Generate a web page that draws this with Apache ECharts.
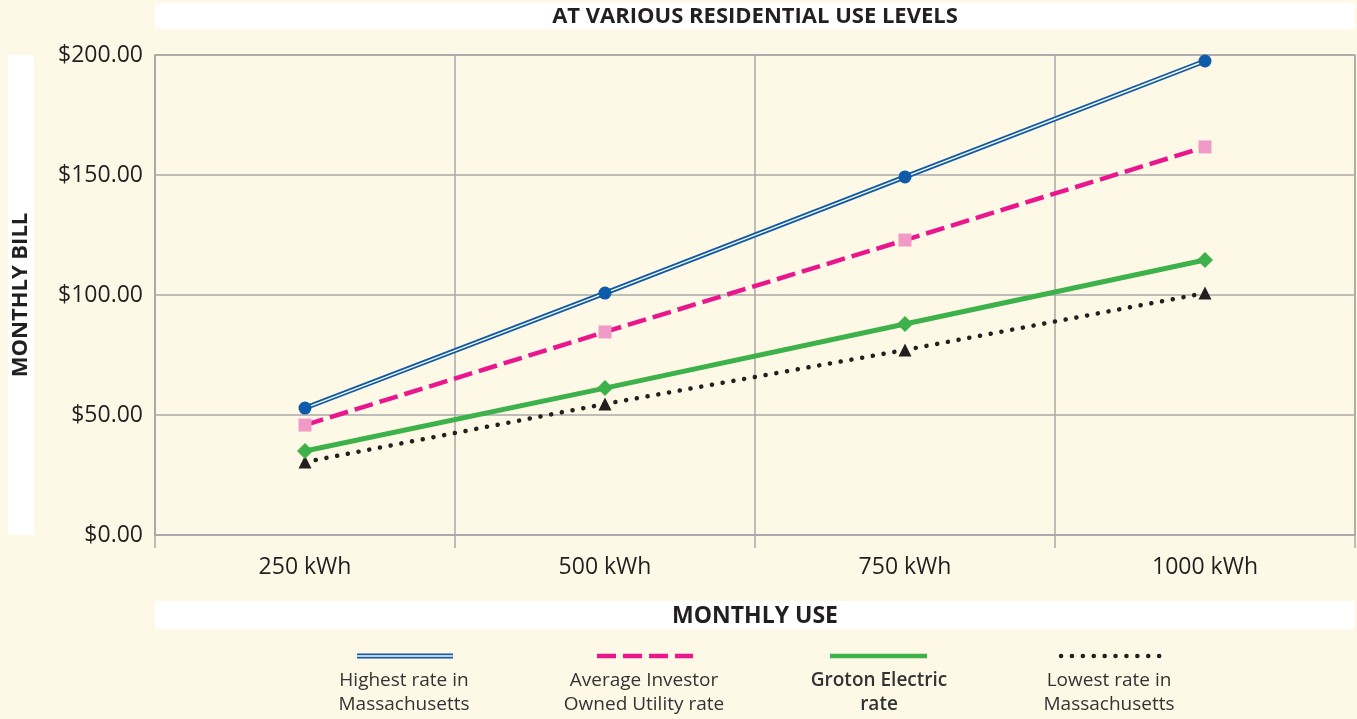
<!DOCTYPE html>
<html><head><meta charset="utf-8">
<script src="https://cdn.jsdelivr.net/npm/echarts@6/dist/echarts.min.js"></script>
<style>html,body{margin:0;padding:0;background:#fef9e7;}#c{width:1357px;height:719px;}</style>
</head><body><div id="c"></div>
<script>
const categories = ['250 kWh', '500 kWh', '750 kWh', '1000 kWh'];
const highestRate = [52.9, 100.8, 149.2, 197.5];
const averageIOU = [45.8, 84.6, 122.9, 161.7];
const grotonRate = [35.0, 61.2, 87.9, 114.6];
const lowestRate = [30.4, 54.6, 77.1, 100.8];
const yTicks = [0, 50, 100, 150, 200];
const legendNames = [['Highest rate in', 'Massachusetts'], ['Average Investor', 'Owned Utility rate'], ['Groton Electric', 'rate'], ['Lowest rate in', 'Massachusetts']];

const BG = '#fef9e7';
const FONT = '"Open Sans", "Noto Sans", sans-serif';
const BLUE = '#0d5ba9', PINK = '#ea168d', PINKSQ = '#f29ac7', GREEN = '#3db14a', BLACK = '#231f20';

const chart = echarts.init(document.getElementById('c'));
const legX = [404, 644, 879, 1109];
const graphic = [
  {type:'rect', shape:{x:155, y:3, width:1200, height:26}, style:{fill:'#fff'}, silent:true},
  {type:'text', x:755, y:17, style:{text:'AT VARIOUS RESIDENTIAL USE LEVELS', font:'bold 22px '+FONT, fill:'#231f20', align:'center', verticalAlign:'middle'}},
  {type:'rect', shape:{x:8, y:55, width:26, height:480}, style:{fill:'#fff'}, silent:true},
  {type:'text', x:21, y:295, rotation:Math.PI/2, style:{text:'MONTHLY BILL', font:'bold 22px '+FONT, fill:'#231f20', align:'center', verticalAlign:'middle'}},
  {type:'rect', shape:{x:155, y:601, width:1200, height:28}, style:{fill:'#fff'}, silent:true},
  {type:'text', x:755, y:616, style:{text:'MONTHLY USE', font:'bold 23px '+FONT, fill:'#231f20', align:'center', verticalAlign:'middle'}},
  // legend samples
  {type:'line', shape:{x1:357, y1:656, x2:453, y2:656}, style:{stroke:BLUE, lineWidth:5}},
  {type:'line', shape:{x1:357, y1:656, x2:453, y2:656}, style:{stroke:BG, lineWidth:1.4}},
  {type:'line', shape:{x1:597, y1:656, x2:693, y2:656}, style:{stroke:PINK, lineWidth:4.5, lineDash:[19,7]}},
  {type:'line', shape:{x1:830, y1:656, x2:927, y2:656}, style:{stroke:GREEN, lineWidth:4.5}},
  {type:'line', shape:{x1:1061, y1:656, x2:1160, y2:656}, style:{stroke:BLACK, lineWidth:4.5, lineDash:[0.1,10.8], lineCap:'round'}}
];
legendNames.forEach((ln, i) => {
  const f = (i===2?'600 ':'') + '19px ' + FONT;
  graphic.push({type:'text', x:legX[i], y:681, style:{text:ln[0], font:f, fill:'#333', align:'center', verticalAlign:'middle'}});
  graphic.push({type:'text', x:legX[i], y:705, style:{text:ln[1], font:f, fill:'#333', align:'center', verticalAlign:'middle'}});
});

chart.setOption({
  backgroundColor: BG,
  animation: false,
  textStyle: {fontFamily: FONT},
  grid: {left:155, top:55, width:1200, height:480, show:true, borderColor:'#a8a8a8', borderWidth:1.5, backgroundColor:'transparent'},
  xAxis: {
    type:'category', data:categories, boundaryGap:true,
    axisLine:{show:true, lineStyle:{color:'#a8a8a8', width:1.5}},
    axisTick:{show:true, length:13, lineStyle:{color:'#a8a8a8', width:1.5}},
    axisLabel:{color:'#231f20', fontSize:23, margin:21, fontFamily:FONT},
    splitLine:{show:true, lineStyle:{color:'#a8a8a8', width:1.5}}
  },
  yAxis: {
    type:'value', min:0, max:200, interval:50,
    axisLine:{show:true, lineStyle:{color:'#a8a8a8', width:1.5}},
    axisTick:{show:false},
    axisLabel:{color:'#231f20', fontSize:23, margin:12, fontFamily:FONT, formatter: v => yTicks.includes(v) ? '$' + v.toFixed(2) : ''},
    splitLine:{show:true, lineStyle:{color:'#a8a8a8', width:1.5}}
  },
  graphic: graphic,
  series: [
    {name:'Lowest rate in Massachusetts', type:'line', data:lowestRate, symbol:'triangle', symbolSize:13,
     itemStyle:{color:BLACK}, lineStyle:{color:BLACK, width:4.5, type:[0.1,10.8], cap:'round'}, z:2},
    {name:'Groton Electric rate', type:'line', data:grotonRate, symbol:'diamond', symbolSize:16,
     itemStyle:{color:GREEN}, lineStyle:{color:GREEN, width:5}, z:3},
    {name:'Average Investor Owned Utility rate', type:'line', data:averageIOU, symbol:'rect', symbolSize:13,
     itemStyle:{color:PINKSQ}, lineStyle:{color:PINK, width:4.5, type:[19,7]}, z:4},
    {name:'Highest rate in Massachusetts', type:'line', data:highestRate, symbol:'none',
     lineStyle:{color:BLUE, width:5}, z:5},
    {name:'Highest rate inner', type:'line', data:highestRate, symbol:'none',
     lineStyle:{color:BG, width:1.4}, z:6},
    {name:'Highest rate markers', type:'scatter', data:highestRate, symbol:'circle', symbolSize:13,
     itemStyle:{color:BLUE, opacity:1}, z:7}
  ]
});
</script>
</body></html>
